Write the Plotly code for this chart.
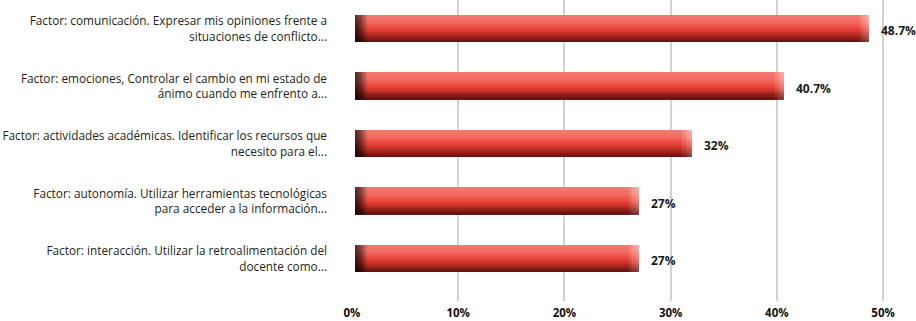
import plotly.graph_objects as go

categories = [
    "Factor: comunicación. Expresar mis opiniones frente a<br>situaciones de conflicto...",
    "Factor: emociones, Controlar el cambio en mi estado de<br>ánimo cuando me enfrento a...",
    "Factor: actividades académicas. Identificar los recursos que<br>necesito para el...",
    "Factor: autonomía. Utilizar herramientas tecnológicas<br>para acceder a la información...",
    "Factor: interacción. Utilizar la retroalimentación del<br>docente como...",
]
values = [48.7, 40.7, 32, 27, 27]
value_labels = ["48.7%", "40.7%", "32%", "27%", "27%"]
tick_vals = [0, 10, 20, 30, 40, 50]
tick_text = ["0%", "10%", "20%", "30%", "40%", "50%"]

# vertical colour profile of the bar (top -> bottom)
stops = [(0.0, (245, 122, 112)), (0.3, (242, 104, 94)), (0.55, (232, 64, 54)),
         (0.8, (165, 36, 28)), (1.0, (92, 18, 14))]


def prof(t):
    for (t0, c0), (t1, c1) in zip(stops[:-1], stops[1:]):
        if t <= t1:
            f = (t - t0) / (t1 - t0) if t1 > t0 else 0
            return tuple(c0[k] + (c1[k] - c0[k]) * f for k in range(3))
    return stops[-1][1]


def rgb(c):
    return "rgb(%d,%d,%d)" % tuple(int(round(max(0, min(255, v)))) for v in c)


def mix(c, m=1.0, white=0.0):
    c = [v * m for v in c]
    return tuple(v + (255 - v) * white for v in c)


N = 14
BW = 0.468
w = BW / N
fig = go.Figure()
start = 0.25
seg = 0.2
left_mult = [0.25, 0.32, 0.42, 0.55, 0.7, 0.85]
for i in range(N):
    t = (i + 0.5) / N
    c = prof(t)
    off = -BW / 2 + i * w
    common = dict(y=categories, orientation="h", width=w * 1.02, offset=off,
                  hoverinfo="skip", showlegend=False, marker_line_width=0)
    # main body
    fig.add_trace(go.Bar(x=[v - start for v in values], base=start,
                         marker_color=rgb(c), **common))
    # left dark end
    for j, m in enumerate(left_mult):
        mm = m + (1 - m) * (1 - t) * 0.2
        fig.add_trace(go.Bar(x=[seg] * len(values), base=start + j * seg,
                             marker_color=rgb(mix(c, m=mm)), **common))
    # right light cap
    for j, wh in enumerate([0.15, 0.28, 0.4]):
        fig.add_trace(go.Bar(x=[0.3] * len(values), base=[v - 0.9 + j * 0.3 for v in values],
                             marker_color=rgb(mix(c, white=wh * (1 - 0.55 * t))), **common))

for cat, v, lab in zip(categories, values, value_labels):
    fig.add_annotation(x=v, y=cat, text="<b>%s</b>" % lab, showarrow=False,
                       xanchor="left", xshift=10, yshift=-2,
                       font=dict(family="Open Sans", size=12, color="#1a1a1a"))

fig.update_layout(
    width=916, height=321,
    margin=dict(l=352, r=0, t=0, b=20, autoexpand=False),
    paper_bgcolor="white", plot_bgcolor="white",
    barmode="overlay", bargap=0,
    font=dict(family="Open Sans", size=11.8, color="#231f20"),
)
fig.update_xaxes(range=[0, 53.1], tickvals=tick_vals, ticktext=["<b>%s</b>" % t for t in tick_text],
                 showgrid=True, gridcolor="#d2d2d2", gridwidth=2, zeroline=False, automargin=False,
                 showline=False, ticks="", ticklabelstandoff=3,
                 tickfont=dict(family="Open Sans", size=11.5, color="#111"))
fig.update_yaxes(type="category", categoryorder="array", categoryarray=categories,
                 range=[4.734, -0.5], showgrid=False, zeroline=False, showline=False,
                 ticks="", ticklabelstandoff=24, automargin=False,
                 tickfont=dict(family="Open Sans", size=11.8, color="#231f20"))

fig.write_html("out.html", config={"displayModeBar": False},
               post_script="document.body.style.margin='0';document.body.style.overflow='hidden';")
